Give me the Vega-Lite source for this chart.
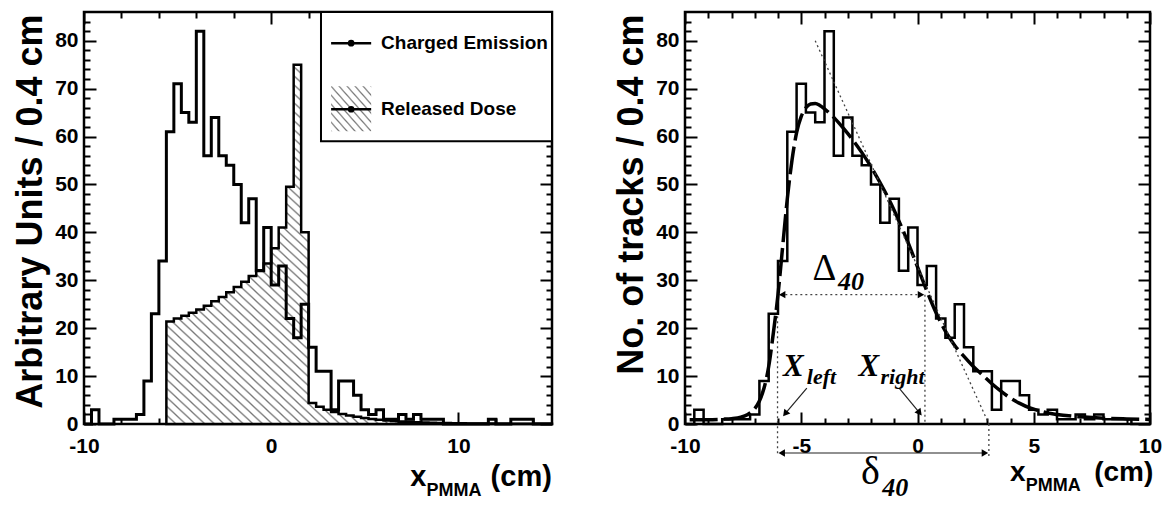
{
  "$schema": "https://vega.github.io/schema/vega-lite/v6.json",
  "background": "white",
  "padding": {"left": 10, "top": 9, "right": 5, "bottom": 5},
  "bounds": "flush",
  "spacing": 133,
  "config": {
    "view": {"stroke": "black", "strokeWidth": 2.5},
    "axis": {
      "domain": false, "grid": false, "tickColor": "black", "tickWidth": 2,
      "labelFont": "Liberation Sans", "labelFontWeight": "bold", "labelFontSize": 21, "labelColor": "black",
      "labelFlush": false, "labelOverlap": false,
      "titleFont": "Liberation Sans", "titleFontWeight": "bold", "titleFontSize": 36, "titleColor": "black"
    }
  },
  "datasets": {
    "charged": [
      {"x": -10, "v": 0}, {"x": -9.6, "v": 3}, {"x": -9.2, "v": 0}, {"x": -8.8, "v": 0}, {"x": -8.4, "v": 1},
      {"x": -8, "v": 1}, {"x": -7.6, "v": 1}, {"x": -7.2, "v": 2}, {"x": -6.8, "v": 9}, {"x": -6.4, "v": 23},
      {"x": -6, "v": 34}, {"x": -5.6, "v": 61}, {"x": -5.2, "v": 71}, {"x": -4.8, "v": 65}, {"x": -4.4, "v": 63},
      {"x": -4, "v": 82}, {"x": -3.6, "v": 56}, {"x": -3.2, "v": 64}, {"x": -2.8, "v": 56}, {"x": -2.4, "v": 54},
      {"x": -2, "v": 50}, {"x": -1.6, "v": 42}, {"x": -1.2, "v": 47}, {"x": -0.8, "v": 32}, {"x": -0.4, "v": 41},
      {"x": 0, "v": 29}, {"x": 0.4, "v": 33}, {"x": 0.8, "v": 22}, {"x": 1.2, "v": 18}, {"x": 1.6, "v": 25},
      {"x": 2, "v": 16}, {"x": 2.4, "v": 11}, {"x": 2.8, "v": 11}, {"x": 3.2, "v": 3}, {"x": 3.6, "v": 9},
      {"x": 4, "v": 9}, {"x": 4.4, "v": 6}, {"x": 4.8, "v": 3}, {"x": 5.2, "v": 2}, {"x": 5.6, "v": 3},
      {"x": 6, "v": 1}, {"x": 6.4, "v": 1}, {"x": 6.8, "v": 2}, {"x": 7.2, "v": 1}, {"x": 7.6, "v": 2},
      {"x": 8, "v": 1}, {"x": 8.4, "v": 1}, {"x": 8.8, "v": 1}, {"x": 9.2, "v": 0}, {"x": 9.6, "v": 0},
      {"x": 10, "v": 0}, {"x": 10.4, "v": 0}, {"x": 10.8, "v": 0}, {"x": 11.2, "v": 0}, {"x": 11.6, "v": 1},
      {"x": 12, "v": 0}, {"x": 12.4, "v": 0}, {"x": 12.8, "v": 1}, {"x": 13.2, "v": 1}, {"x": 13.6, "v": 1},
      {"x": 14, "v": 0}, {"x": 14.4, "v": 0}, {"x": 14.8, "v": 0}, {"x": 15, "v": 0}
    ],
    "dose": [
      {"x": -5.6, "v": 21.4}, {"x": -5.2, "v": 22.0}, {"x": -4.8, "v": 22.6}, {"x": -4.4, "v": 23.2},
      {"x": -4.0, "v": 23.9}, {"x": -3.6, "v": 24.7}, {"x": -3.2, "v": 25.6}, {"x": -2.8, "v": 26.5},
      {"x": -2.4, "v": 27.5}, {"x": -2.0, "v": 28.6}, {"x": -1.6, "v": 29.7}, {"x": -1.2, "v": 30.9},
      {"x": -0.8, "v": 32.1}, {"x": -0.4, "v": 33.5}, {"x": 0.0, "v": 36.7}, {"x": 0.4, "v": 41.0},
      {"x": 0.8, "v": 49.5}, {"x": 1.2, "v": 75.0}, {"x": 1.6, "v": 40.0}, {"x": 2.0, "v": 4.4},
      {"x": 2.4, "v": 3.6}, {"x": 2.8, "v": 3.0}, {"x": 3.2, "v": 2.5}, {"x": 3.6, "v": 2.1},
      {"x": 4.0, "v": 1.8}, {"x": 4.4, "v": 1.5}, {"x": 4.8, "v": 1.25}, {"x": 5.2, "v": 1.05},
      {"x": 5.6, "v": 0.9}, {"x": 6.0, "v": 0.75}, {"x": 6.4, "v": 0.63}, {"x": 6.8, "v": 0.53},
      {"x": 7.2, "v": 0.45}, {"x": 7.6, "v": 0.38}, {"x": 8.0, "v": 0.32}, {"x": 8.4, "v": 0.27},
      {"x": 8.8, "v": 0.23}, {"x": 9.2, "v": 0.2}, {"x": 9.6, "v": 0.17}, {"x": 10.0, "v": 0.14},
      {"x": 10.4, "v": 0.12}, {"x": 10.8, "v": 0.1}, {"x": 11.2, "v": 0.09}, {"x": 11.6, "v": 0.08},
      {"x": 12.0, "v": 0.07}, {"x": 12.4, "v": 0.06}, {"x": 12.8, "v": 0.05}, {"x": 13.2, "v": 0.05},
      {"x": 13.6, "v": 0.04}, {"x": 14.0, "v": 0.04}, {"x": 14.4, "v": 0.03}, {"x": 14.8, "v": 0.03},
      {"x": 15.0, "v": 0.03}
    ],
    "fit": [
      {"x": -9.8, "v": 0.9}, {"x": -9.0, "v": 0.9}, {"x": -8.4, "v": 1.0}, {"x": -8.0, "v": 1.1},
      {"x": -7.6, "v": 1.4}, {"x": -7.3, "v": 2.0}, {"x": -7.0, "v": 3.2}, {"x": -6.8, "v": 4.8},
      {"x": -6.6, "v": 7.5}, {"x": -6.4, "v": 12}, {"x": -6.2, "v": 19}, {"x": -6.0, "v": 27},
      {"x": -5.8, "v": 37}, {"x": -5.6, "v": 47}, {"x": -5.4, "v": 55}, {"x": -5.2, "v": 60.8},
      {"x": -5.0, "v": 64.2}, {"x": -4.8, "v": 66.0}, {"x": -4.6, "v": 66.8}, {"x": -4.4, "v": 66.9},
      {"x": -4.2, "v": 66.5}, {"x": -4.0, "v": 65.8}, {"x": -3.6, "v": 64.0}, {"x": -3.2, "v": 61.8},
      {"x": -2.8, "v": 59.4}, {"x": -2.4, "v": 56.7}, {"x": -2.0, "v": 53.7}, {"x": -1.6, "v": 50.3},
      {"x": -1.2, "v": 46.6}, {"x": -0.8, "v": 42.4}, {"x": -0.4, "v": 37.8}, {"x": 0.0, "v": 32.8},
      {"x": 0.4, "v": 27.8}, {"x": 0.8, "v": 23.2}, {"x": 1.2, "v": 19.4}, {"x": 1.6, "v": 16.4},
      {"x": 2.0, "v": 14.1}, {"x": 2.4, "v": 12.0}, {"x": 2.8, "v": 10.2}, {"x": 3.2, "v": 8.4},
      {"x": 3.6, "v": 6.8}, {"x": 4.0, "v": 5.4}, {"x": 4.4, "v": 4.3}, {"x": 4.8, "v": 3.4},
      {"x": 5.2, "v": 2.8}, {"x": 5.6, "v": 2.3}, {"x": 6.0, "v": 2.0}, {"x": 6.5, "v": 1.7},
      {"x": 7.0, "v": 1.5}, {"x": 8.0, "v": 1.2}, {"x": 9.0, "v": 1.05}, {"x": 10.0, "v": 0.95}
    ]
  },
  "hconcat": [
    {
      "width": 468,
      "height": 412,
      "resolve": {"axis": {"x": "independent", "y": "independent"}},
      "layer": [
        {
          "data": {"name": "dose"},
          "mark": {
            "type": "area", "interpolate": "step-after", "stroke": "black", "strokeWidth": 2.5,
            "fill": {
              "gradient": "linear", "x1": 0, "y1": 1, "x2": 1, "y2": 0,
              "stops": [
                {"offset":0,"color":"#777"},{"offset":0.0025,"color":"#fff"},{"offset":0.01,"color":"#fff"},
                {"offset":0.0125,"color":"#777"},{"offset":0.015,"color":"#fff"},{"offset":0.0225,"color":"#fff"},
                {"offset":0.025,"color":"#777"},{"offset":0.0275,"color":"#fff"},{"offset":0.035,"color":"#fff"},
                {"offset":0.0375,"color":"#777"},{"offset":0.04,"color":"#fff"},{"offset":0.0475,"color":"#fff"},
                {"offset":0.05,"color":"#777"},{"offset":0.0525,"color":"#fff"},{"offset":0.06,"color":"#fff"},
                {"offset":0.0625,"color":"#777"},{"offset":0.065,"color":"#fff"},{"offset":0.0725,"color":"#fff"},
                {"offset":0.075,"color":"#777"},{"offset":0.0775,"color":"#fff"},{"offset":0.085,"color":"#fff"},
                {"offset":0.0875,"color":"#777"},{"offset":0.09,"color":"#fff"},{"offset":0.0975,"color":"#fff"},
                {"offset":0.1,"color":"#777"},{"offset":0.1025,"color":"#fff"},{"offset":0.11,"color":"#fff"},
                {"offset":0.1125,"color":"#777"},{"offset":0.115,"color":"#fff"},{"offset":0.1225,"color":"#fff"},
                {"offset":0.125,"color":"#777"},{"offset":0.1275,"color":"#fff"},{"offset":0.135,"color":"#fff"},
                {"offset":0.1375,"color":"#777"},{"offset":0.14,"color":"#fff"},{"offset":0.1475,"color":"#fff"},
                {"offset":0.15,"color":"#777"},{"offset":0.1525,"color":"#fff"},{"offset":0.16,"color":"#fff"},
                {"offset":0.1625,"color":"#777"},{"offset":0.165,"color":"#fff"},{"offset":0.1725,"color":"#fff"},
                {"offset":0.175,"color":"#777"},{"offset":0.1775,"color":"#fff"},{"offset":0.185,"color":"#fff"},
                {"offset":0.1875,"color":"#777"},{"offset":0.19,"color":"#fff"},{"offset":0.1975,"color":"#fff"},
                {"offset":0.2,"color":"#777"},{"offset":0.2025,"color":"#fff"},{"offset":0.21,"color":"#fff"},
                {"offset":0.2125,"color":"#777"},{"offset":0.215,"color":"#fff"},{"offset":0.2225,"color":"#fff"},
                {"offset":0.225,"color":"#777"},{"offset":0.2275,"color":"#fff"},{"offset":0.235,"color":"#fff"},
                {"offset":0.2375,"color":"#777"},{"offset":0.24,"color":"#fff"},{"offset":0.2475,"color":"#fff"},
                {"offset":0.25,"color":"#777"},{"offset":0.2525,"color":"#fff"},{"offset":0.26,"color":"#fff"},
                {"offset":0.2625,"color":"#777"},{"offset":0.265,"color":"#fff"},{"offset":0.2725,"color":"#fff"},
                {"offset":0.275,"color":"#777"},{"offset":0.2775,"color":"#fff"},{"offset":0.285,"color":"#fff"},
                {"offset":0.2875,"color":"#777"},{"offset":0.29,"color":"#fff"},{"offset":0.2975,"color":"#fff"},
                {"offset":0.3,"color":"#777"},{"offset":0.3025,"color":"#fff"},{"offset":0.31,"color":"#fff"},
                {"offset":0.3125,"color":"#777"},{"offset":0.315,"color":"#fff"},{"offset":0.3225,"color":"#fff"},
                {"offset":0.325,"color":"#777"},{"offset":0.3275,"color":"#fff"},{"offset":0.335,"color":"#fff"},
                {"offset":0.3375,"color":"#777"},{"offset":0.34,"color":"#fff"},{"offset":0.3475,"color":"#fff"},
                {"offset":0.35,"color":"#777"},{"offset":0.3525,"color":"#fff"},{"offset":0.36,"color":"#fff"},
                {"offset":0.3625,"color":"#777"},{"offset":0.365,"color":"#fff"},{"offset":0.3725,"color":"#fff"},
                {"offset":0.375,"color":"#777"},{"offset":0.3775,"color":"#fff"},{"offset":0.385,"color":"#fff"},
                {"offset":0.3875,"color":"#777"},{"offset":0.39,"color":"#fff"},{"offset":0.3975,"color":"#fff"},
                {"offset":0.4,"color":"#777"},{"offset":0.4025,"color":"#fff"},{"offset":0.41,"color":"#fff"},
                {"offset":0.4125,"color":"#777"},{"offset":0.415,"color":"#fff"},{"offset":0.4225,"color":"#fff"},
                {"offset":0.425,"color":"#777"},{"offset":0.4275,"color":"#fff"},{"offset":0.435,"color":"#fff"},
                {"offset":0.4375,"color":"#777"},{"offset":0.44,"color":"#fff"},{"offset":0.4475,"color":"#fff"},
                {"offset":0.45,"color":"#777"},{"offset":0.4525,"color":"#fff"},{"offset":0.46,"color":"#fff"},
                {"offset":0.4625,"color":"#777"},{"offset":0.465,"color":"#fff"},{"offset":0.4725,"color":"#fff"},
                {"offset":0.475,"color":"#777"},{"offset":0.4775,"color":"#fff"},{"offset":0.485,"color":"#fff"},
                {"offset":0.4875,"color":"#777"},{"offset":0.49,"color":"#fff"},{"offset":0.4975,"color":"#fff"},
                {"offset":0.5,"color":"#777"},{"offset":0.5025,"color":"#fff"},{"offset":0.51,"color":"#fff"},
                {"offset":0.5125,"color":"#777"},{"offset":0.515,"color":"#fff"},{"offset":0.5225,"color":"#fff"},
                {"offset":0.525,"color":"#777"},{"offset":0.5275,"color":"#fff"},{"offset":0.535,"color":"#fff"},
                {"offset":0.5375,"color":"#777"},{"offset":0.54,"color":"#fff"},{"offset":0.5475,"color":"#fff"},
                {"offset":0.55,"color":"#777"},{"offset":0.5525,"color":"#fff"},{"offset":0.56,"color":"#fff"},
                {"offset":0.5625,"color":"#777"},{"offset":0.565,"color":"#fff"},{"offset":0.5725,"color":"#fff"},
                {"offset":0.575,"color":"#777"},{"offset":0.5775,"color":"#fff"},{"offset":0.585,"color":"#fff"},
                {"offset":0.5875,"color":"#777"},{"offset":0.59,"color":"#fff"},{"offset":0.5975,"color":"#fff"},
                {"offset":0.6,"color":"#777"},{"offset":0.6025,"color":"#fff"},{"offset":0.61,"color":"#fff"},
                {"offset":0.6125,"color":"#777"},{"offset":0.615,"color":"#fff"},{"offset":0.6225,"color":"#fff"},
                {"offset":0.625,"color":"#777"},{"offset":0.6275,"color":"#fff"},{"offset":0.635,"color":"#fff"},
                {"offset":0.6375,"color":"#777"},{"offset":0.64,"color":"#fff"},{"offset":0.6475,"color":"#fff"},
                {"offset":0.65,"color":"#777"},{"offset":0.6525,"color":"#fff"},{"offset":0.66,"color":"#fff"},
                {"offset":0.6625,"color":"#777"},{"offset":0.665,"color":"#fff"},{"offset":0.6725,"color":"#fff"},
                {"offset":0.675,"color":"#777"},{"offset":0.6775,"color":"#fff"},{"offset":0.685,"color":"#fff"},
                {"offset":0.6875,"color":"#777"},{"offset":0.69,"color":"#fff"},{"offset":0.6975,"color":"#fff"},
                {"offset":0.7,"color":"#777"},{"offset":0.7025,"color":"#fff"},{"offset":0.71,"color":"#fff"},
                {"offset":0.7125,"color":"#777"},{"offset":0.715,"color":"#fff"},{"offset":0.7225,"color":"#fff"},
                {"offset":0.725,"color":"#777"},{"offset":0.7275,"color":"#fff"},{"offset":0.735,"color":"#fff"},
                {"offset":0.7375,"color":"#777"},{"offset":0.74,"color":"#fff"},{"offset":0.7475,"color":"#fff"},
                {"offset":0.75,"color":"#777"},{"offset":0.7525,"color":"#fff"},{"offset":0.76,"color":"#fff"},
                {"offset":0.7625,"color":"#777"},{"offset":0.765,"color":"#fff"},{"offset":0.7725,"color":"#fff"},
                {"offset":0.775,"color":"#777"},{"offset":0.7775,"color":"#fff"},{"offset":0.785,"color":"#fff"},
                {"offset":0.7875,"color":"#777"},{"offset":0.79,"color":"#fff"},{"offset":0.7975,"color":"#fff"},
                {"offset":0.8,"color":"#777"},{"offset":0.8025,"color":"#fff"},{"offset":0.81,"color":"#fff"},
                {"offset":0.8125,"color":"#777"},{"offset":0.815,"color":"#fff"},{"offset":0.8225,"color":"#fff"},
                {"offset":0.825,"color":"#777"},{"offset":0.8275,"color":"#fff"},{"offset":0.835,"color":"#fff"},
                {"offset":0.8375,"color":"#777"},{"offset":0.84,"color":"#fff"},{"offset":0.8475,"color":"#fff"},
                {"offset":0.85,"color":"#777"},{"offset":0.8525,"color":"#fff"},{"offset":0.86,"color":"#fff"},
                {"offset":0.8625,"color":"#777"},{"offset":0.865,"color":"#fff"},{"offset":0.8725,"color":"#fff"},
                {"offset":0.875,"color":"#777"},{"offset":0.8775,"color":"#fff"},{"offset":0.885,"color":"#fff"},
                {"offset":0.8875,"color":"#777"},{"offset":0.89,"color":"#fff"},{"offset":0.8975,"color":"#fff"},
                {"offset":0.9,"color":"#777"},{"offset":0.9025,"color":"#fff"},{"offset":0.91,"color":"#fff"},
                {"offset":0.9125,"color":"#777"},{"offset":0.915,"color":"#fff"},{"offset":0.9225,"color":"#fff"},
                {"offset":0.925,"color":"#777"},{"offset":0.9275,"color":"#fff"},{"offset":0.935,"color":"#fff"},
                {"offset":0.9375,"color":"#777"},{"offset":0.94,"color":"#fff"},{"offset":0.9475,"color":"#fff"},
                {"offset":0.95,"color":"#777"},{"offset":0.9525,"color":"#fff"},{"offset":0.96,"color":"#fff"},
                {"offset":0.9625,"color":"#777"},{"offset":0.965,"color":"#fff"},{"offset":0.9725,"color":"#fff"},
                {"offset":0.975,"color":"#777"},{"offset":0.9775,"color":"#fff"},{"offset":0.985,"color":"#fff"},
                {"offset":0.9875,"color":"#777"},{"offset":0.99,"color":"#fff"},{"offset":0.9975,"color":"#fff"},
                {"offset":1,"color":"#777"}
              ]
            }
          },
          "encoding": {
            "x": {"field": "x", "type": "quantitative", "scale": {"domain": [-10, 15], "nice": false, "zero": false},
              "axis": {"orient": "top", "values": [-10,-8,-6,-4,-2,0,2,4,6,8,10,12,14], "labels": false, "title": null,
                "tickSize": {"condition": {"test": "datum.value % 10 === 0", "value": -12}, "value": -6}}},
            "y": {"field": "v", "type": "quantitative", "scale": {"domain": [0, 86], "nice": false, "zero": false},
              "axis": {"orient": "right", "values": [0,2,4,6,8,10,12,14,16,18,20,22,24,26,28,30,32,34,36,38,40,42,44,46,48,50,52,54,56,58,60,62,64,66,68,70,72,74,76,78,80,82,84], "labels": false, "title": null,
                "tickSize": {"condition": {"test": "datum.value % 10 === 0", "value": -12}, "value": -6}}}
          }
        },
        {
          "data": {"name": "charged"},
          "mark": {"type": "line", "interpolate": "step-after", "color": "black", "strokeWidth": 3},
          "encoding": {
            "x": {"field": "x", "type": "quantitative", "scale": {"domain": [-10, 15], "nice": false, "zero": false},
              "axis": {"orient": "bottom", "values": [-10,-8,-6,-4,-2,0,2,4,6,8,10,12,14], "title": null,
                "labelExpr": "datum.value % 10 === 0 ? '' + datum.value : ''", "labelPadding": 23,
                "tickSize": {"condition": {"test": "datum.value % 10 === 0", "value": -12}, "value": -6}}},
            "y": {"field": "v", "type": "quantitative", "scale": {"domain": [0, 86], "nice": false, "zero": false},
              "axis": {"orient": "left", "values": [0,2,4,6,8,10,12,14,16,18,20,22,24,26,28,30,32,34,36,38,40,42,44,46,48,50,52,54,56,58,60,62,64,66,68,70,72,74,76,78,80,82,84],
                "labelExpr": "datum.value % 10 === 0 ? datum.label : ''", "labelPadding": 18,
                "tickSize": {"condition": {"test": "datum.value % 10 === 0", "value": -12}, "value": -6},
                "title": "Arbitrary Units / 0.4 cm", "titleAngle": -90, "titleAlign": "right", "titleBaseline": "middle", "titleX": -54, "titleY": 2}}
          }
        },
        {
          "data": {"values": [{"x1": 2.66, "x2": 15, "y1": 59, "y2": 86}]},
          "mark": {"type": "rect", "fill": "white", "stroke": "black", "strokeWidth": 2},
          "encoding": {
            "x": {"field": "x1", "type": "quantitative", "scale": {"domain": [-10, 15], "nice": false, "zero": false}, "axis": null},
            "x2": {"field": "x2"},
            "y": {"field": "y1", "type": "quantitative", "scale": {"domain": [0, 86], "nice": false, "zero": false}, "axis": null},
            "y2": {"field": "y2"}
          }
        },
        {
          "data": {"values": [{"x1": 3.2, "x2": 5.34, "y1": 61.1, "y2": 70.5}]},
          "mark": {
            "type": "rect",
            "fill": {
              "gradient": "linear", "x1": 0, "y1": 1, "x2": 1, "y2": 0,
              "stops": [
                {"offset":0,"color":"#777"},{"offset":0.02,"color":"#fff"},{"offset":0.08,"color":"#fff"},
                {"offset":0.1,"color":"#777"},{"offset":0.12,"color":"#fff"},{"offset":0.18,"color":"#fff"},
                {"offset":0.2,"color":"#777"},{"offset":0.22,"color":"#fff"},{"offset":0.28,"color":"#fff"},
                {"offset":0.3,"color":"#777"},{"offset":0.32,"color":"#fff"},{"offset":0.38,"color":"#fff"},
                {"offset":0.4,"color":"#777"},{"offset":0.42,"color":"#fff"},{"offset":0.48,"color":"#fff"},
                {"offset":0.5,"color":"#777"},{"offset":0.52,"color":"#fff"},{"offset":0.58,"color":"#fff"},
                {"offset":0.6,"color":"#777"},{"offset":0.62,"color":"#fff"},{"offset":0.68,"color":"#fff"},
                {"offset":0.7,"color":"#777"},{"offset":0.72,"color":"#fff"},{"offset":0.78,"color":"#fff"},
                {"offset":0.8,"color":"#777"},{"offset":0.82,"color":"#fff"},{"offset":0.88,"color":"#fff"},
                {"offset":0.9,"color":"#777"},{"offset":0.92,"color":"#fff"},{"offset":0.98,"color":"#fff"},
                {"offset":1,"color":"#777"}
              ]
            }
          },
          "encoding": {
            "x": {"field": "x1", "type": "quantitative", "scale": {"domain": [-10, 15], "nice": false, "zero": false}, "axis": null},
            "x2": {"field": "x2"},
            "y": {"field": "y1", "type": "quantitative", "scale": {"domain": [0, 86], "nice": false, "zero": false}, "axis": null},
            "y2": {"field": "y2"}
          }
        },
        {
          "data": {"values": [{"x1": 3.2, "x2": 5.34, "y": 79.5}, {"x1": 3.2, "x2": 5.34, "y": 65.7}]},
          "mark": {"type": "rule", "color": "black", "strokeWidth": 2.5},
          "encoding": {
            "x": {"field": "x1", "type": "quantitative", "scale": {"domain": [-10, 15], "nice": false, "zero": false}, "axis": null},
            "x2": {"field": "x2"},
            "y": {"field": "y", "type": "quantitative", "scale": {"domain": [0, 86], "nice": false, "zero": false}, "axis": null}
          }
        },
        {
          "data": {"values": [{"x": 4.27, "y": 79.5}, {"x": 4.27, "y": 65.7}]},
          "mark": {"type": "point", "shape": "circle", "filled": true, "color": "black", "size": 45, "opacity": 1},
          "encoding": {
            "x": {"field": "x", "type": "quantitative", "scale": {"domain": [-10, 15], "nice": false, "zero": false}, "axis": null},
            "y": {"field": "y", "type": "quantitative", "scale": {"domain": [0, 86], "nice": false, "zero": false}, "axis": null}
          }
        },
        {
          "data": {"values": [{"x": 5.87, "y": 79.5, "t": "Charged Emission"}, {"x": 5.87, "y": 65.7, "t": "Released Dose"}]},
          "mark": {"type": "text", "align": "left", "baseline": "middle", "font": "Liberation Sans", "fontWeight": "bold", "fontSize": 19, "color": "black"},
          "encoding": {
            "x": {"field": "x", "type": "quantitative", "scale": {"domain": [-10, 15], "nice": false, "zero": false}, "axis": null},
            "y": {"field": "y", "type": "quantitative", "scale": {"domain": [0, 86], "nice": false, "zero": false}, "axis": null},
            "text": {"field": "t"}
          }
        },
        {
          "data": {"values": [{"x": 7.43, "y": -13.0, "t": "x"}, {"x": 11.72, "y": -13.0, "t": "(cm)"}]},
          "mark": {"type": "text", "align": "left", "baseline": "alphabetic", "font": "Liberation Sans", "fontWeight": "bold", "fontSize": 29, "color": "black"},
          "encoding": {
            "x": {"field": "x", "type": "quantitative", "scale": {"domain": [-10, 15], "nice": false, "zero": false}, "axis": null},
            "y": {"field": "y", "type": "quantitative", "scale": {"domain": [0, 86], "nice": false, "zero": false}, "axis": null},
            "text": {"field": "t"}
          }
        },
        {
          "data": {"values": [{"x": 8.29, "y": -15.1, "t": "PMMA"}]},
          "mark": {"type": "text", "align": "left", "baseline": "alphabetic", "font": "Liberation Sans", "fontWeight": "bold", "fontSize": 18, "color": "black"},
          "encoding": {
            "x": {"field": "x", "type": "quantitative", "scale": {"domain": [-10, 15], "nice": false, "zero": false}, "axis": null},
            "y": {"field": "y", "type": "quantitative", "scale": {"domain": [0, 86], "nice": false, "zero": false}, "axis": null},
            "text": {"field": "t"}
          }
        }
      ]
    },
    {
      "width": 465,
      "height": 412,
      "resolve": {"axis": {"x": "independent", "y": "independent"}},
      "layer": [
        {
          "data": {"name": "charged"},
          "transform": [{"filter": "datum.x <= 10"}],
          "mark": {"type": "line", "interpolate": "step-after", "color": "black", "strokeWidth": 2.5},
          "encoding": {
            "x": {"field": "x", "type": "quantitative", "scale": {"domain": [-10, 10], "nice": false, "zero": false},
              "axis": {"orient": "bottom", "values": [-10,-9,-8,-7,-6,-5,-4,-3,-2,-1,0,1,2,3,4,5,6,7,8,9,10], "title": null,
                "labelExpr": "datum.value % 5 === 0 ? '' + datum.value : ''", "labelPadding": 23,
                "tickSize": {"condition": {"test": "datum.value % 5 === 0", "value": -12}, "value": -6}}},
            "y": {"field": "v", "type": "quantitative", "scale": {"domain": [0, 86], "nice": false, "zero": false},
              "axis": {"orient": "left", "values": [0,2,4,6,8,10,12,14,16,18,20,22,24,26,28,30,32,34,36,38,40,42,44,46,48,50,52,54,56,58,60,62,64,66,68,70,72,74,76,78,80,82,84],
                "labelExpr": "datum.value % 10 === 0 ? datum.label : ''", "labelPadding": 18,
                "tickSize": {"condition": {"test": "datum.value % 10 === 0", "value": -12}, "value": -6},
                "title": "No. of tracks / 0.4 cm", "titleAngle": -90, "titleAlign": "right", "titleBaseline": "middle", "titleX": -54, "titleY": 2}}
          }
        },
        {
          "data": {"name": "fit"},
          "mark": {"type": "line", "interpolate": "monotone", "color": "black", "strokeWidth": 3.5, "strokeDash": [28, 6]},
          "encoding": {
            "x": {"field": "x", "type": "quantitative", "scale": {"domain": [-10, 10], "nice": false, "zero": false},
              "axis": {"orient": "top", "values": [-10,-9,-8,-7,-6,-5,-4,-3,-2,-1,0,1,2,3,4,5,6,7,8,9,10], "labels": false, "title": null,
                "tickSize": {"condition": {"test": "datum.value % 5 === 0", "value": -12}, "value": -6}}},
            "y": {"field": "v", "type": "quantitative", "scale": {"domain": [0, 86], "nice": false, "zero": false},
              "axis": {"orient": "right", "values": [0,2,4,6,8,10,12,14,16,18,20,22,24,26,28,30,32,34,36,38,40,42,44,46,48,50,52,54,56,58,60,62,64,66,68,70,72,74,76,78,80,82,84], "labels": false, "title": null,
                "tickSize": {"condition": {"test": "datum.value % 10 === 0", "value": -12}, "value": -6}}}
          }
        },
        {
          "data": {"values": [
            {"x1": -4.4, "y1": 80, "x2": 3.07, "y2": 0},
            {"x1": -6.02, "y1": 22.5, "x2": -6.02, "y2": -6.7},
            {"x1": 0.32, "y1": 27, "x2": 0.32, "y2": 0},
            {"x1": 3.07, "y1": 0, "x2": 3.07, "y2": -6.7},
            {"x1": -5.9, "y1": 27, "x2": 0.25, "y2": 27}
          ]},
          "mark": {"type": "rule", "color": "#444", "strokeWidth": 1.3, "strokeDash": [2, 3]},
          "encoding": {
            "x": {"field": "x1", "type": "quantitative", "scale": {"domain": [-10, 10], "nice": false, "zero": false}, "axis": null},
            "x2": {"field": "x2"},
            "y": {"field": "y1", "type": "quantitative", "scale": {"domain": [0, 86], "nice": false, "zero": false}, "axis": null},
            "y2": {"field": "y2"}
          }
        },
        {
          "data": {"values": [
            {"x1": -5.9, "y1": -6.05, "x2": 2.95, "y2": -6.05},
            {"x1": -4.76, "y1": 7.5, "x2": -5.69, "y2": 2.15},
            {"x1": -0.79, "y1": 7.5, "x2": 0.09, "y2": 2.34}
          ]},
          "mark": {"type": "rule", "color": "#222", "strokeWidth": 1.2},
          "encoding": {
            "x": {"field": "x1", "type": "quantitative", "scale": {"domain": [-10, 10], "nice": false, "zero": false}, "axis": null},
            "x2": {"field": "x2"},
            "y": {"field": "y1", "type": "quantitative", "scale": {"domain": [0, 86], "nice": false, "zero": false}, "axis": null},
            "y2": {"field": "y2"}
          }
        },
        {
          "data": {"values": [{"x": -5.82, "y": 27}, {"x": -5.84, "y": -6.05}]},
          "mark": {"type": "point", "shape": "triangle-left", "filled": true, "color": "black", "size": 55, "opacity": 1},
          "encoding": {
            "x": {"field": "x", "type": "quantitative", "scale": {"domain": [-10, 10], "nice": false, "zero": false}, "axis": null},
            "y": {"field": "y", "type": "quantitative", "scale": {"domain": [0, 86], "nice": false, "zero": false}, "axis": null}
          }
        },
        {
          "data": {"values": [{"x": 0.15, "y": 27}, {"x": 2.9, "y": -6.05}]},
          "mark": {"type": "point", "shape": "triangle-right", "filled": true, "color": "black", "size": 55, "opacity": 1},
          "encoding": {
            "x": {"field": "x", "type": "quantitative", "scale": {"domain": [-10, 10], "nice": false, "zero": false}, "axis": null},
            "y": {"field": "y", "type": "quantitative", "scale": {"domain": [0, 86], "nice": false, "zero": false}, "axis": null}
          }
        },
        {
          "data": {"values": [{"x": -5.69, "y": 2.15}]},
          "mark": {"type": "point", "shape": "triangle-up", "angle": 219, "filled": true, "color": "black", "size": 60, "opacity": 1},
          "encoding": {
            "x": {"field": "x", "type": "quantitative", "scale": {"domain": [-10, 10], "nice": false, "zero": false}, "axis": null},
            "y": {"field": "y", "type": "quantitative", "scale": {"domain": [0, 86], "nice": false, "zero": false}, "axis": null}
          }
        },
        {
          "data": {"values": [{"x": 0.09, "y": 2.34}]},
          "mark": {"type": "point", "shape": "triangle-up", "angle": 141, "filled": true, "color": "black", "size": 60, "opacity": 1},
          "encoding": {
            "x": {"field": "x", "type": "quantitative", "scale": {"domain": [-10, 10], "nice": false, "zero": false}, "axis": null},
            "y": {"field": "y", "type": "quantitative", "scale": {"domain": [0, 86], "nice": false, "zero": false}, "axis": null}
          }
        },
        {
          "data": {"values": [{"x": -4.0, "y": 30.1, "t": "Δ"}]},
          "mark": {"type": "text", "align": "center", "baseline": "alphabetic", "font": "Liberation Serif", "fontSize": 37, "color": "black"},
          "encoding": {
            "x": {"field": "x", "type": "quantitative", "scale": {"domain": [-10, 10], "nice": false, "zero": false}, "axis": null},
            "y": {"field": "y", "type": "quantitative", "scale": {"domain": [0, 86], "nice": false, "zero": false}, "axis": null},
            "text": {"field": "t"}
          }
        },
        {
          "data": {"values": [{"x": -2.03, "y": -12.6, "t": "δ"}]},
          "mark": {"type": "text", "align": "center", "baseline": "alphabetic", "font": "Liberation Serif", "fontSize": 40, "color": "black"},
          "encoding": {
            "x": {"field": "x", "type": "quantitative", "scale": {"domain": [-10, 10], "nice": false, "zero": false}, "axis": null},
            "y": {"field": "y", "type": "quantitative", "scale": {"domain": [0, 86], "nice": false, "zero": false}, "axis": null},
            "text": {"field": "t"}
          }
        },
        {
          "data": {"values": [{"x": -3.42, "y": 27.9, "t": "40"}, {"x": -1.52, "y": -15.1, "t": "40"}]},
          "mark": {"type": "text", "align": "left", "baseline": "alphabetic", "font": "Liberation Serif", "fontStyle": "italic", "fontWeight": "bold", "fontSize": 26, "color": "black"},
          "encoding": {
            "x": {"field": "x", "type": "quantitative", "scale": {"domain": [-10, 10], "nice": false, "zero": false}, "axis": null},
            "y": {"field": "y", "type": "quantitative", "scale": {"domain": [0, 86], "nice": false, "zero": false}, "axis": null},
            "text": {"field": "t"}
          }
        },
        {
          "data": {"values": [{"x": -5.34, "y": 9.96, "t": "X"}, {"x": -2.09, "y": 9.96, "t": "X"}]},
          "mark": {"type": "text", "align": "center", "baseline": "alphabetic", "font": "Liberation Serif", "fontStyle": "italic", "fontWeight": "bold", "fontSize": 31, "color": "black"},
          "encoding": {
            "x": {"field": "x", "type": "quantitative", "scale": {"domain": [-10, 10], "nice": false, "zero": false}, "axis": null},
            "y": {"field": "y", "type": "quantitative", "scale": {"domain": [0, 86], "nice": false, "zero": false}, "axis": null},
            "text": {"field": "t"}
          }
        },
        {
          "data": {"values": [{"x": -4.76, "y": 8.3, "t": "left"}, {"x": -1.59, "y": 8.3, "t": "right"}]},
          "mark": {"type": "text", "align": "left", "baseline": "alphabetic", "font": "Liberation Serif", "fontStyle": "italic", "fontWeight": "bold", "fontSize": 22, "color": "black"},
          "encoding": {
            "x": {"field": "x", "type": "quantitative", "scale": {"domain": [-10, 10], "nice": false, "zero": false}, "axis": null},
            "y": {"field": "y", "type": "quantitative", "scale": {"domain": [0, 86], "nice": false, "zero": false}, "axis": null},
            "text": {"field": "t"}
          }
        },
        {
          "data": {"values": [{"x": 3.98, "y": -11.9, "t": "x"}, {"x": 7.6, "y": -11.9, "t": "(cm)"}]},
          "mark": {"type": "text", "align": "left", "baseline": "alphabetic", "font": "Liberation Sans", "fontWeight": "bold", "fontSize": 28, "color": "black"},
          "encoding": {
            "x": {"field": "x", "type": "quantitative", "scale": {"domain": [-10, 10], "nice": false, "zero": false}, "axis": null},
            "y": {"field": "y", "type": "quantitative", "scale": {"domain": [0, 86], "nice": false, "zero": false}, "axis": null},
            "text": {"field": "t"}
          }
        },
        {
          "data": {"values": [{"x": 4.66, "y": -14.0, "t": "PMMA"}]},
          "mark": {"type": "text", "align": "left", "baseline": "alphabetic", "font": "Liberation Sans", "fontWeight": "bold", "fontSize": 18, "color": "black"},
          "encoding": {
            "x": {"field": "x", "type": "quantitative", "scale": {"domain": [-10, 10], "nice": false, "zero": false}, "axis": null},
            "y": {"field": "y", "type": "quantitative", "scale": {"domain": [0, 86], "nice": false, "zero": false}, "axis": null},
            "text": {"field": "t"}
          }
        }
      ]
    }
  ]
}
